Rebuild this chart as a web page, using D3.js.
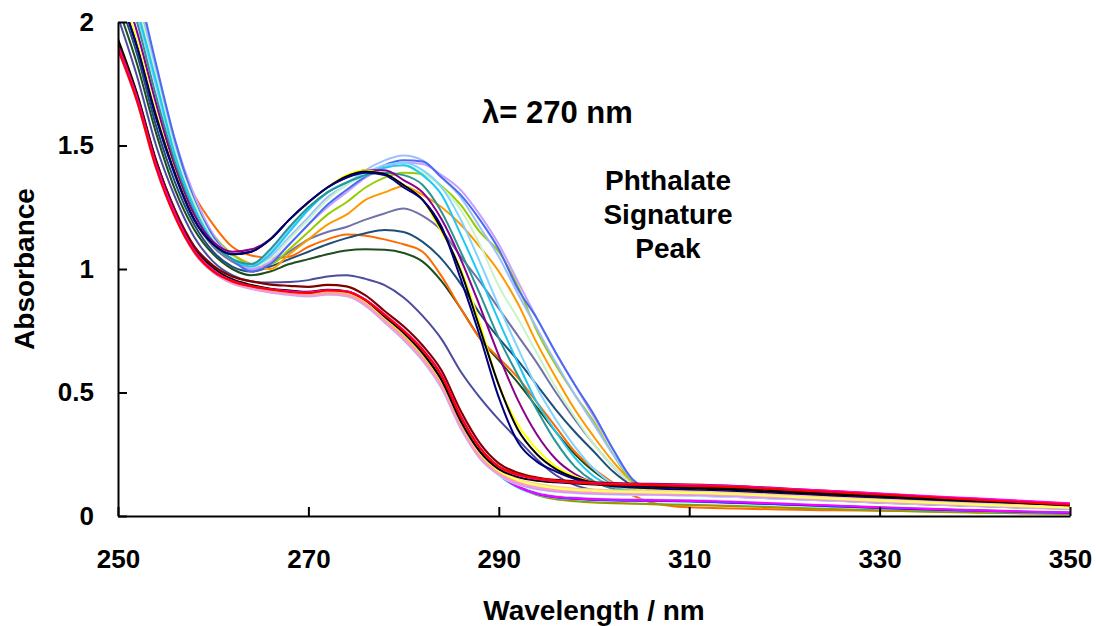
<!DOCTYPE html>
<html>
<head>
<meta charset="utf-8">
<script src="https://cdn.jsdelivr.net/npm/d3@7"></script>
<style>
  html, body { margin: 0; padding: 0; background: #ffffff; }
  svg text { font-family: "Liberation Sans", Arial, sans-serif; font-weight: bold; fill: #000; }
</style>
</head>
<body>
<svg id="chart" width="1096" height="626"></svg>
<script>
// Wavelength grid (nm) shared by every spectrum
const wavelengths = [250,252,254,256,258,260,262,264,266,268,270,272,274,276,278,280,282,284,286,288,290,292,294,296,298,300,302,304,306,310,315,320,325,330,335,340,345,350];

// Axis ticks
const xTicks = [250, 270, 290, 310, 330, 350];
const yTicks = [0, 0.5, 1, 1.5, 2];

// Spectra with the phthalate band
const pDarkSlate  = [2.02,1.78,1.50,1.29,1.13,1.03,0.975,0.95,0.945,0.947,0.955,0.97,0.975,0.96,0.935,0.885,0.81,0.715,0.585,0.48,0.39,0.31,0.23,0.165,0.125,0.105,0.095,0.09,0.087,0.083,0.077,0.07,0.062,0.054,0.047,0.04,0.034,0.028];
const pDarkGreen  = [2.06,1.83,1.55,1.32,1.16,1.06,1.0,0.975,0.99,1.02,1.04,1.06,1.075,1.08,1.078,1.065,1.03,0.95,0.84,0.72,0.63,0.54,0.44,0.34,0.25,0.18,0.13,0.105,0.095,0.088,0.08,0.072,0.064,0.056,0.049,0.042,0.036,0.03];
const pOrangeRed  = [2.3,2.05,1.75,1.48,1.30,1.18,1.09,1.055,1.045,1.05,1.09,1.12,1.14,1.135,1.12,1.1,1.07,0.97,0.84,0.72,0.64,0.56,0.46,0.36,0.26,0.19,0.135,0.085,0.055,0.035,0.03,0.026,0.023,0.021,0.019,0.017,0.015,0.013];
const pDarkBlue   = [2.1,1.87,1.58,1.35,1.18,1.07,1.01,0.99,1.01,1.04,1.07,1.1,1.125,1.145,1.158,1.15,1.11,1.04,0.94,0.82,0.72,0.63,0.53,0.43,0.34,0.26,0.18,0.125,0.1,0.09,0.082,0.074,0.066,0.058,0.05,0.043,0.037,0.031];
const pSlate      = [2.15,1.9,1.62,1.38,1.2,1.09,1.03,1.0,1.02,1.07,1.12,1.15,1.17,1.2,1.225,1.245,1.215,1.155,1.05,0.95,0.84,0.73,0.62,0.5,0.39,0.29,0.2,0.13,0.1,0.09,0.082,0.074,0.066,0.058,0.05,0.043,0.037,0.031];
const pOrange     = [2.3,2.05,1.76,1.48,1.27,1.13,1.06,1.02,1.0,1.06,1.12,1.18,1.22,1.28,1.31,1.335,1.3,1.25,1.18,1.09,0.99,0.86,0.7,0.56,0.43,0.32,0.22,0.14,0.105,0.092,0.084,0.075,0.067,0.059,0.051,0.044,0.038,0.032];
const pLime       = [2.35,2.1,1.8,1.5,1.28,1.14,1.06,1.02,1.02,1.08,1.15,1.22,1.27,1.33,1.37,1.39,1.385,1.335,1.26,1.15,1.07,0.93,0.75,0.61,0.49,0.38,0.25,0.14,0.105,0.092,0.084,0.075,0.067,0.059,0.051,0.044,0.038,0.032];
const pRoyalBlue  = [2.4,2.15,1.83,1.52,1.28,1.13,1.04,0.99,1.02,1.1,1.18,1.26,1.32,1.375,1.42,1.44,1.435,1.37,1.3,1.2,1.08,0.92,0.8,0.66,0.53,0.41,0.27,0.15,0.11,0.095,0.086,0.077,0.069,0.061,0.053,0.046,0.04,0.034];
const pLightBlue  = [2.38,2.12,1.8,1.5,1.28,1.13,1.05,1.01,1.05,1.13,1.21,1.29,1.34,1.4,1.44,1.46,1.44,1.37,1.29,1.17,1.05,0.9,0.76,0.62,0.49,0.37,0.25,0.15,0.11,0.095,0.086,0.077,0.069,0.061,0.053,0.046,0.04,0.034];
const pLavender   = [2.4,2.15,1.82,1.52,1.3,1.14,1.05,1.0,1.03,1.1,1.18,1.25,1.31,1.37,1.41,1.43,1.425,1.38,1.32,1.22,1.1,0.95,0.8,0.66,0.53,0.4,0.27,0.15,0.11,0.095,0.086,0.077,0.069,0.061,0.053,0.046,0.04,0.034];
const pPaleGreen  = [2.35,2.08,1.78,1.48,1.27,1.12,1.05,1.01,1.04,1.12,1.2,1.28,1.34,1.38,1.41,1.42,1.39,1.33,1.24,1.1,0.93,0.8,0.66,0.52,0.4,0.29,0.2,0.13,0.1,0.09,0.082,0.074,0.066,0.058,0.05,0.043,0.037,0.031];
const pCyan       = [2.3,2.05,1.76,1.46,1.25,1.11,1.04,1.01,1.06,1.15,1.24,1.31,1.35,1.38,1.41,1.42,1.38,1.3,1.14,0.97,0.79,0.62,0.46,0.34,0.235,0.16,0.12,0.1,0.092,0.088,0.08,0.072,0.064,0.056,0.049,0.042,0.036,0.03];
const pTeal       = [2.25,2.0,1.7,1.43,1.23,1.1,1.04,1.02,1.08,1.17,1.25,1.31,1.35,1.38,1.39,1.38,1.34,1.23,1.07,0.9,0.72,0.57,0.43,0.3,0.2,0.14,0.11,0.098,0.092,0.088,0.08,0.072,0.064,0.056,0.049,0.042,0.036,0.03];
const pSkyBlue    = [2.28,2.03,1.74,1.45,1.24,1.1,1.04,1.02,1.07,1.16,1.24,1.31,1.35,1.39,1.42,1.43,1.4,1.33,1.2,1.03,0.85,0.68,0.52,0.39,0.28,0.19,0.13,0.105,0.095,0.09,0.082,0.074,0.066,0.058,0.05,0.043,0.037,0.031];
const pPurple     = [2.2,1.96,1.67,1.41,1.22,1.11,1.07,1.08,1.12,1.2,1.27,1.33,1.37,1.4,1.4,1.36,1.31,1.2,1.04,0.85,0.65,0.47,0.33,0.23,0.17,0.135,0.12,0.115,0.11,0.105,0.098,0.09,0.082,0.074,0.066,0.058,0.05,0.042];
const pYellow     = [2.15,1.92,1.63,1.39,1.2,1.1,1.06,1.07,1.12,1.2,1.27,1.33,1.38,1.4,1.38,1.34,1.28,1.15,1.0,0.78,0.53,0.37,0.27,0.2,0.16,0.135,0.12,0.112,0.108,0.1,0.092,0.084,0.075,0.067,0.059,0.051,0.044,0.037];
const pBlack      = [2.13,1.9,1.62,1.385,1.2,1.1,1.06,1.07,1.12,1.2,1.27,1.33,1.375,1.395,1.385,1.34,1.28,1.16,0.99,0.76,0.53,0.35,0.25,0.19,0.155,0.135,0.125,0.12,0.118,0.112,0.105,0.096,0.087,0.078,0.069,0.06,0.052,0.044];
const pNavy       = [2.12,1.9,1.61,1.38,1.2,1.1,1.06,1.07,1.12,1.2,1.27,1.33,1.37,1.39,1.38,1.33,1.28,1.17,0.96,0.73,0.48,0.3,0.22,0.18,0.15,0.13,0.12,0.115,0.112,0.105,0.097,0.088,0.079,0.07,0.062,0.054,0.046,0.039];

// Spectra without the phthalate band
const bRed      = [1.89,1.68,1.41,1.21,1.07,0.99,0.95,0.93,0.917,0.907,0.903,0.913,0.908,0.874,0.814,0.75,0.672,0.567,0.402,0.276,0.2,0.168,0.152,0.142,0.136,0.131,0.128,0.127,0.125,0.122,0.117,0.107,0.097,0.087,0.077,0.066,0.056,0.046];
const bMagenta  = [1.90,1.69,1.42,1.22,1.075,0.995,0.952,0.93,0.918,0.91,0.905,0.914,0.91,0.876,0.816,0.752,0.674,0.57,0.405,0.278,0.2,0.166,0.15,0.141,0.136,0.132,0.13,0.128,0.127,0.125,0.12,0.11,0.101,0.091,0.081,0.071,0.061,0.051];
const bBlack    = [1.93,1.71,1.44,1.235,1.085,1.005,0.958,0.935,0.92,0.913,0.907,0.916,0.91,0.874,0.808,0.742,0.66,0.55,0.385,0.262,0.19,0.158,0.143,0.137,0.132,0.128,0.125,0.123,0.122,0.118,0.112,0.103,0.093,0.083,0.073,0.063,0.053,0.043];
const bMaroon   = [1.91,1.70,1.437,1.238,1.093,1.014,0.97,0.95,0.937,0.932,0.928,0.936,0.93,0.893,0.83,0.768,0.69,0.588,0.425,0.295,0.213,0.175,0.156,0.146,0.14,0.136,0.133,0.131,0.13,0.127,0.121,0.111,0.101,0.09,0.079,0.069,0.059,0.049];
const bBlue     = [1.92,1.70,1.43,1.23,1.08,0.998,0.952,0.932,0.918,0.91,0.903,0.912,0.906,0.87,0.805,0.738,0.655,0.545,0.38,0.25,0.17,0.12,0.09,0.076,0.07,0.066,0.064,0.063,0.062,0.06,0.054,0.047,0.04,0.033,0.027,0.022,0.017,0.013];
const bCyan     = [1.91,1.69,1.42,1.225,1.075,0.995,0.95,0.93,0.916,0.908,0.901,0.91,0.904,0.868,0.802,0.735,0.652,0.54,0.375,0.245,0.165,0.115,0.088,0.074,0.068,0.064,0.062,0.061,0.06,0.058,0.052,0.045,0.038,0.032,0.026,0.021,0.016,0.012];
const bYellow   = [1.93,1.71,1.435,1.232,1.082,1.0,0.955,0.934,0.92,0.912,0.906,0.914,0.908,0.872,0.806,0.74,0.658,0.548,0.385,0.258,0.185,0.145,0.125,0.113,0.106,0.102,0.099,0.097,0.096,0.094,0.088,0.079,0.07,0.062,0.054,0.046,0.04,0.034];
const bPink     = [1.9,1.685,1.415,1.215,1.068,0.988,0.943,0.922,0.907,0.898,0.892,0.899,0.893,0.855,0.788,0.718,0.634,0.522,0.36,0.238,0.17,0.135,0.117,0.106,0.1,0.096,0.094,0.093,0.092,0.09,0.084,0.076,0.067,0.059,0.051,0.044,0.038,0.032];
const bPeach    = [1.92,1.7,1.428,1.228,1.078,0.998,0.953,0.932,0.918,0.91,0.904,0.912,0.906,0.87,0.804,0.738,0.656,0.546,0.383,0.256,0.183,0.148,0.13,0.118,0.111,0.107,0.104,0.102,0.101,0.099,0.093,0.084,0.075,0.066,0.058,0.05,0.043,0.037];
const bFuchsia  = [1.89,1.68,1.412,1.215,1.07,0.99,0.947,0.927,0.913,0.905,0.899,0.907,0.901,0.864,0.798,0.73,0.648,0.538,0.374,0.246,0.168,0.118,0.09,0.077,0.071,0.067,0.065,0.064,0.063,0.061,0.056,0.049,0.042,0.035,0.029,0.023,0.018,0.014];
const bOlive    = [1.92,1.7,1.43,1.23,1.08,1.0,0.954,0.933,0.919,0.911,0.904,0.912,0.906,0.87,0.805,0.738,0.655,0.545,0.38,0.25,0.17,0.118,0.085,0.068,0.06,0.055,0.052,0.05,0.048,0.045,0.04,0.034,0.028,0.023,0.018,0.014,0.011,0.008];
const bGold     = [1.91,1.695,1.425,1.225,1.076,0.996,0.951,0.93,0.916,0.908,0.902,0.91,0.904,0.868,0.802,0.735,0.653,0.543,0.38,0.254,0.18,0.142,0.122,0.11,0.104,0.1,0.098,0.096,0.095,0.092,0.086,0.078,0.069,0.06,0.052,0.045,0.039,0.033];
const bPowder   = [1.9,1.69,1.42,1.22,1.074,0.994,0.95,0.929,0.915,0.907,0.9,0.909,0.903,0.866,0.8,0.733,0.65,0.54,0.376,0.248,0.17,0.122,0.094,0.08,0.074,0.07,0.068,0.067,0.066,0.064,0.058,0.05,0.043,0.036,0.03,0.024,0.019,0.015];
const bIce      = [1.88,1.675,1.405,1.21,1.063,0.984,0.94,0.918,0.903,0.894,0.888,0.895,0.889,0.85,0.782,0.711,0.626,0.514,0.352,0.232,0.165,0.128,0.108,0.098,0.092,0.088,0.086,0.085,0.084,0.082,0.077,0.07,0.062,0.055,0.048,0.041,0.035,0.03];
const bLilac    = [1.89,1.68,1.41,1.213,1.066,0.986,0.942,0.92,0.905,0.896,0.89,0.897,0.891,0.852,0.785,0.714,0.63,0.518,0.356,0.235,0.168,0.13,0.11,0.1,0.094,0.09,0.088,0.087,0.086,0.084,0.079,0.071,0.063,0.056,0.049,0.042,0.036,0.03];
const bTan      = [1.91,1.69,1.42,1.222,1.073,0.993,0.948,0.927,0.912,0.903,0.897,0.905,0.899,0.861,0.795,0.726,0.643,0.532,0.37,0.245,0.175,0.14,0.121,0.11,0.104,0.1,0.098,0.097,0.096,0.094,0.089,0.081,0.072,0.064,0.056,0.048,0.041,0.035];

// Drawing order (back to front) and line colours
const phthalateSpectra = [pDarkSlate, pDarkGreen, pOrangeRed, pDarkBlue, pSlate, pOrange, pLime, pLavender, pLightBlue, pRoyalBlue, pPaleGreen, pSkyBlue, pCyan, pTeal, pPurple, pYellow, pBlack, pNavy];
const phthalateColors  = ["#4b4ba0", "#1e4d1e", "#ff6a00", "#1f4e79", "#7272a8", "#ff9900", "#99cc00", "#c9a0ff", "#9dbfff", "#4a6cf0", "#c8f5c8", "#80d4ff", "#1ec8f5", "#2a9595", "#8a008a", "#ffff00", "#000000", "#000080"];
const blankSpectra = [bOlive, bPowder, bCyan, bBlue, bFuchsia, bIce, bLilac, bTan, bGold, bPeach, bPink, bYellow, bBlack, bMaroon, bMagenta, bRed];
const blankColors  = ["#999900", "#99ccff", "#00ffff", "#0000ff", "#ff00ff", "#ccffff", "#cc99ff", "#e0b88a", "#ffcc00", "#ffcc99", "#ff99cc", "#ffff66", "#000000", "#800000", "#ff00ff", "#ff0000"];

const svg = d3.select("#chart");
const x = d3.scaleLinear().domain([250, 350]).range([118, 1070]);
const y = d3.scaleLinear().domain([0, 2]).range([516, 22]);

svg.append("defs").append("clipPath").attr("id", "plot-clip")
  .append("rect").attr("x", 118).attr("y", 22).attr("width", 960).attr("height", 494);

const line = d3.line()
  .x((d, i) => x(wavelengths[i]))
  .y(d => y(d))
  .curve(d3.curveMonotoneX);

const plot = svg.append("g").attr("clip-path", "url(#plot-clip)");

plot.selectAll("path.phthalate")
  .data(phthalateSpectra)
  .join("path")
  .attr("class", "phthalate")
  .attr("d", line)
  .attr("fill", "none")
  .attr("stroke", (d, i) => phthalateColors[i])
  .attr("stroke-width", 2);

plot.selectAll("path.blank")
  .data(blankSpectra)
  .join("path")
  .attr("class", "blank")
  .attr("d", line)
  .attr("fill", "none")
  .attr("stroke", (d, i) => blankColors[i])
  .attr("stroke-width", 2.2);

// Axes with inward ticks
const xAxis = svg.append("g")
  .attr("transform", "translate(0,516)")
  .call(d3.axisBottom(x).tickValues(xTicks).tickFormat(d3.format("d")).tickSizeInner(-9).tickSizeOuter(0).tickPadding(34));
const yAxis = svg.append("g")
  .attr("transform", "translate(118,0)")
  .call(d3.axisLeft(y).tickValues(yTicks).tickFormat(d => String(d)).tickSizeInner(-9).tickSizeOuter(0).tickPadding(24));

[xAxis, yAxis].forEach(g => {
  g.select(".domain").attr("stroke", "#000").attr("stroke-width", 2);
  g.selectAll(".tick line").attr("stroke", "#000").attr("stroke-width", 2);
  g.selectAll(".tick text").attr("font-size", 26).attr("font-family", "Liberation Sans, Arial, sans-serif").attr("font-weight", "bold").attr("fill", "#000");
});

// Axis titles
svg.append("text")
  .attr("x", 594).attr("y", 620)
  .attr("text-anchor", "middle")
  .attr("font-size", 28)
  .text("Wavelength / nm");

svg.append("text")
  .attr("transform", "translate(34,269) rotate(-90)")
  .attr("text-anchor", "middle")
  .attr("font-size", 28)
  .text("Absorbance");

// Annotations
svg.append("text")
  .attr("x", 482).attr("y", 123)
  .attr("font-size", 31)
  .text("λ= 270 nm");

const note = svg.append("text")
  .attr("text-anchor", "middle")
  .attr("font-size", 28);
["Phthalate", "Signature", "Peak"].forEach((t, i) => {
  note.append("tspan").attr("x", 668).attr("y", 190 + i * 34).text(t);
});
</script>
</body>
</html>
